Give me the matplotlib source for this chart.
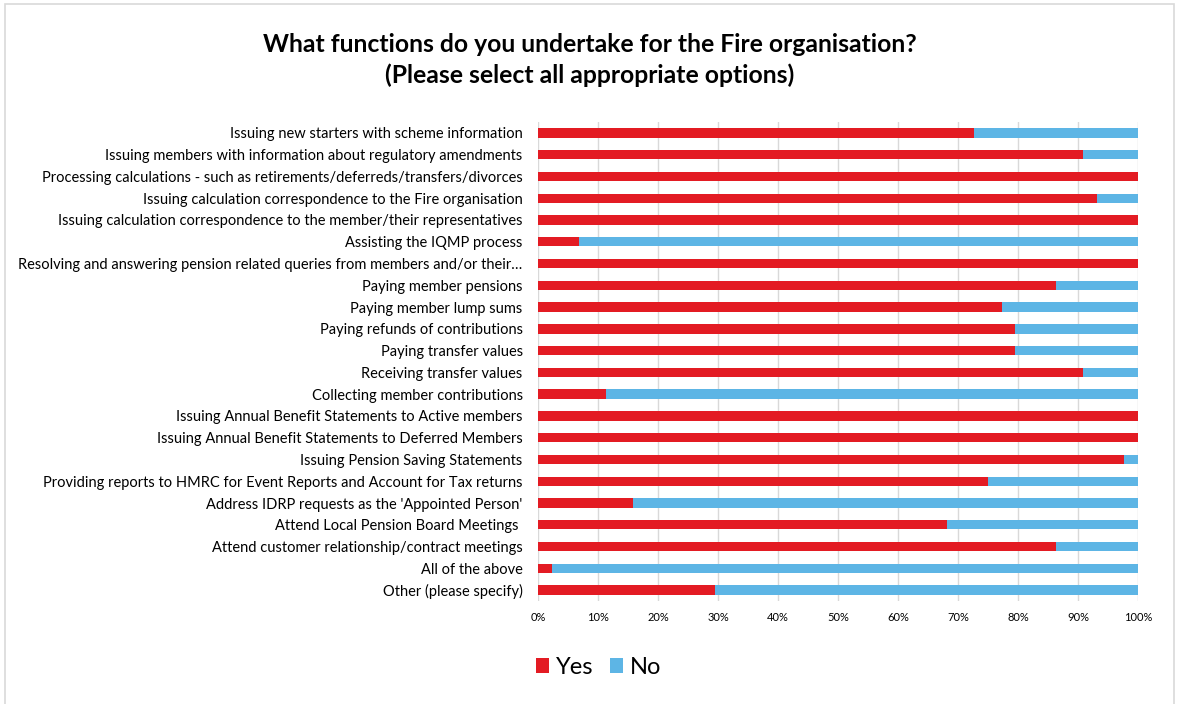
import matplotlib.pyplot as plt
import numpy as np

plt.rcParams['font.family'] = ['Lato', 'DejaVu Sans']

categories = [
    "Issuing new starters with scheme information",
    "Issuing members with information about regulatory amendments",
    "Processing calculations - such as retirements/deferreds/transfers/divorces",
    "Issuing calculation correspondence to the Fire organisation",
    "Issuing calculation correspondence to the member/their representatives",
    "Assisting the IQMP process",
    "Resolving and answering pension related queries from members and/or their…",
    "Paying member pensions",
    "Paying member lump sums",
    "Paying refunds of contributions",
    "Paying transfer values",
    "Receiving transfer values",
    "Collecting member contributions",
    "Issuing Annual Benefit Statements to Active members",
    "Issuing Annual Benefit Statements to Deferred Members",
    "Issuing Pension Saving Statements",
    "Providing reports to HMRC for Event Reports and Account for Tax returns",
    "Address IDRP requests as the 'Appointed Person'",
    "Attend Local Pension Board Meetings ",
    "Attend customer relationship/contract meetings",
    "All of the above",
    "Other (please specify)",
]
yes_counts = [32, 40, 44, 41, 44, 3, 44, 38, 34, 35, 35, 40, 5, 44, 44, 43, 33, 7, 30, 38, 1, 13]
respondents = 44

yes = np.array(yes_counts) / respondents
no = 1 - yes

fig = plt.figure(figsize=(11.79, 7.04), dpi=100)
ax = fig.add_axes([0.4563, 0.1463, 0.5089, 0.6804])

y = np.arange(len(categories))
ax.barh(y, yes, height=0.43, color='#E31B23', label='Yes', zorder=3)
ax.barh(y, no, left=yes, height=0.43, color='#5DB5E5', label='No', zorder=3)

ax.set_ylim(len(categories) - 0.5, -0.5)
ax.set_xlim(0, 1)
ax.set_yticks(y)
ax.set_yticklabels(categories, fontsize=10.55)
ax.set_xticks(np.linspace(0, 1, 11))
ax.set_xticklabels([f"{int(v)}%" for v in np.linspace(0, 100, 11)], fontsize=8)
ax.tick_params(axis='y', length=0, pad=11)
ax.tick_params(axis='x', length=0, pad=8)
ax.xaxis.grid(True, color='#D9D9D9', linewidth=1, zorder=0)
for s in ax.spines.values():
    s.set_visible(False)

fig.suptitle("What functions do you undertake for the Fire organisation?\n(Please select all appropriate options)",
             fontsize=17.8, fontweight='bold', y=0.953, linespacing=1.4)

fig.legend(loc='center', bbox_to_anchor=(0.508, 0.052), ncol=2, frameon=False,
           fontsize=17, handlelength=0.55, handleheight=0.55, handletextpad=0.3,
           columnspacing=0.7)

# light frame around the chart
fig.patches.append(plt.Rectangle((0.004, -0.01), 0.992, 1.005, transform=fig.transFigure,
                                 fill=False, edgecolor='#D9D9D9', linewidth=1.2))

fig.savefig('out.png', dpi=100)
